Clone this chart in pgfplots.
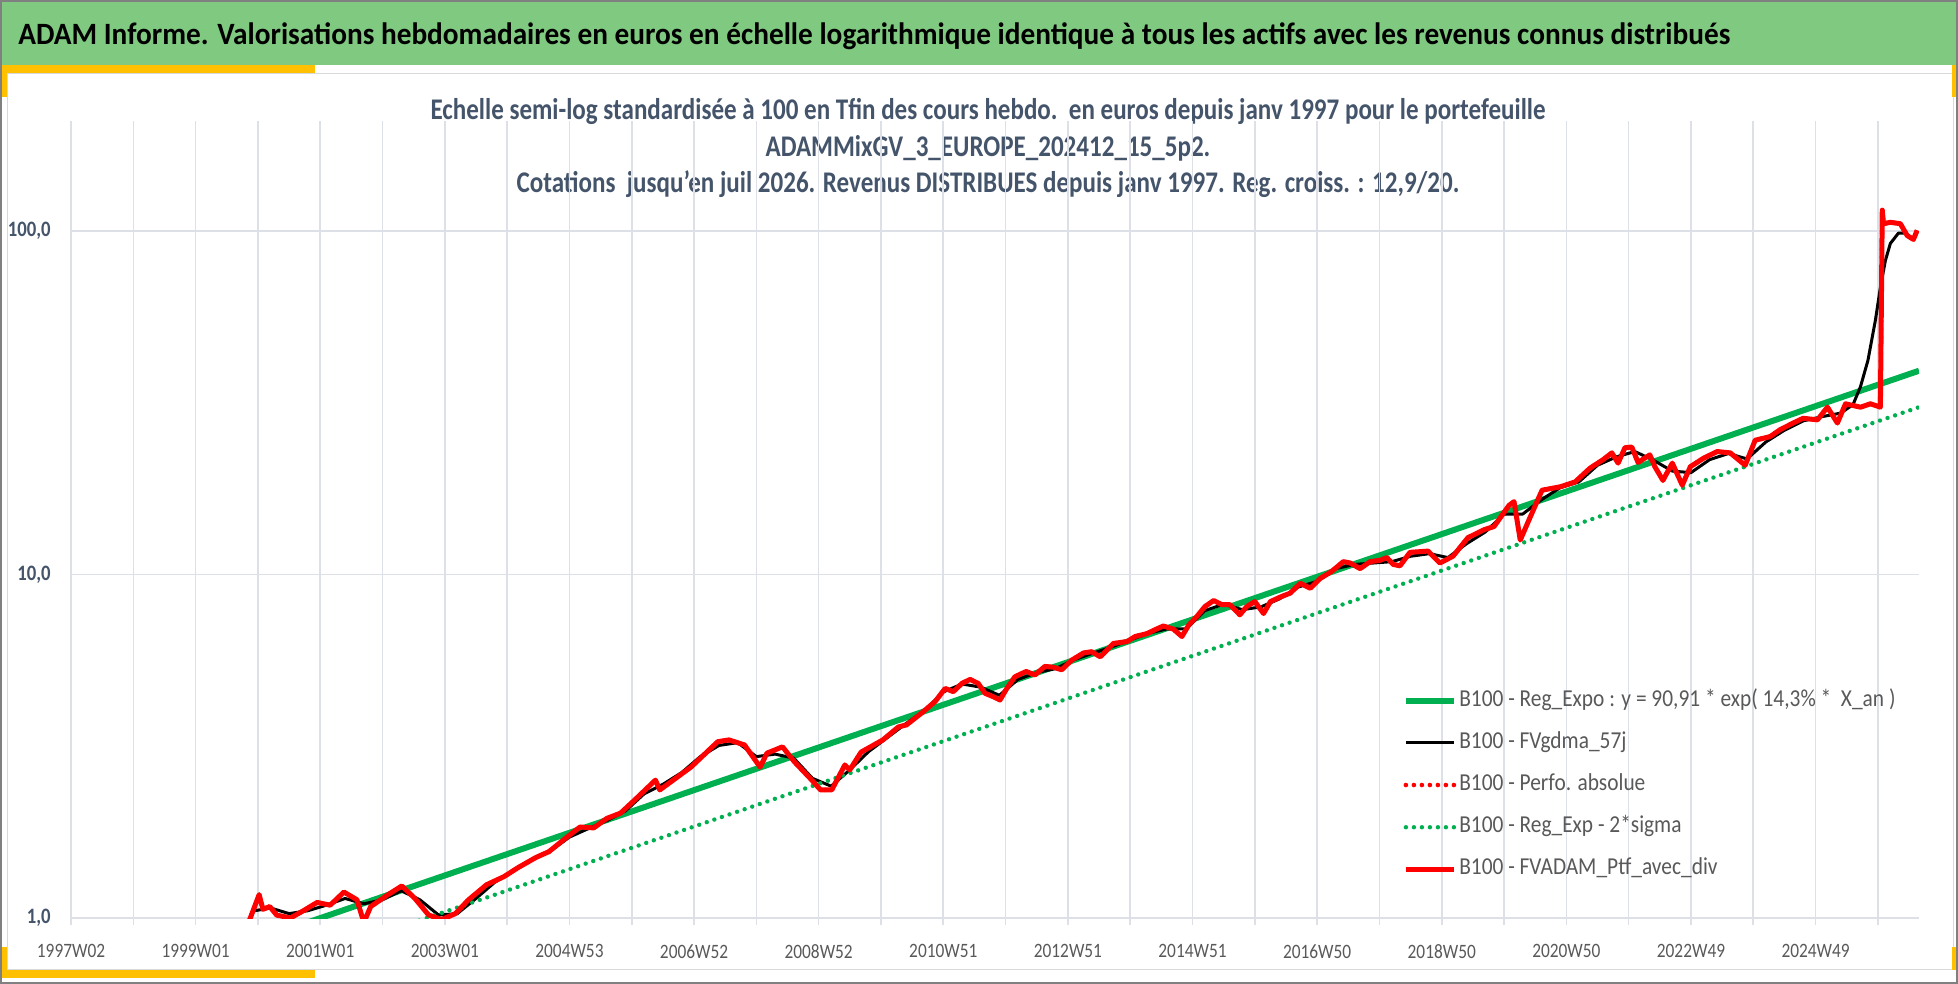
\documentclass[border=0pt]{standalone}
\usepackage{pgfplots}
\pgfplotsset{compat=1.18}
\usepackage{pgfplotstable}
\usepackage{graphicx}
\usepackage{fontspec}
\setmainfont{Carlito}
\definecolor{titlegreen}{RGB}{128,201,128}
\definecolor{accent}{RGB}{255,192,0}
\definecolor{slate}{RGB}{68,84,106}
\definecolor{txtgray}{RGB}{89,89,89}
\definecolor{gridc}{RGB}{222,224,232}
\definecolor{xlgreen}{RGB}{0,176,80}
\definecolor{framec}{RGB}{128,128,128}
\definecolor{innerframe}{RGB}{217,217,217}
\newcommand\sqx[1]{\scalebox{0.85}[1]{#1}}
\newcommand\sql[1]{\scalebox{0.88}[1]{#1}}

\pgfplotstableread{
t v
2.85 0.97
3.02 1.17
3.08 1.06
3.19 1.08
3.30 1.02
3.52 1.00
3.73 1.05
3.95 1.11
4.16 1.09
4.38 1.19
4.59 1.13
4.70 0.97
4.81 1.08
5.09 1.17
5.31 1.24
5.52 1.14
5.74 1.02
5.95 0.99
6.17 1.03
6.38 1.13
6.67 1.25
6.95 1.32
7.17 1.40
7.46 1.50
7.67 1.56
7.96 1.72
8.17 1.84
8.39 1.83
8.60 1.95
8.82 2.02
9.04 2.20
9.38 2.52
9.45 2.36
9.95 2.75
10.38 3.26
10.56 3.30
10.81 3.19
11.06 2.75
11.17 3.02
11.42 3.15
11.61 2.85
11.89 2.52
12.03 2.36
12.21 2.36
12.42 2.79
12.50 2.70
12.68 3.04
13.03 3.30
13.28 3.60
13.41 3.65
13.68 3.99
13.87 4.27
14.03 4.66
14.16 4.56
14.30 4.82
14.43 4.95
14.56 4.82
14.67 4.51
14.80 4.41
14.91 4.31
15.02 4.66
15.15 5.04
15.33 5.22
15.47 5.10
15.63 5.40
15.77 5.37
15.90 5.28
16.06 5.63
16.25 5.91
16.38 5.96
16.52 5.76
16.73 6.30
16.95 6.38
17.08 6.60
17.27 6.73
17.40 6.91
17.53 7.08
17.69 6.94
17.83 6.60
17.94 7.13
18.07 7.55
18.20 8.07
18.34 8.40
18.47 8.17
18.60 8.17
18.76 7.63
18.87 8.07
19.00 8.34
19.14 7.70
19.25 8.34
19.41 8.60
19.57 8.83
19.73 9.43
19.89 9.12
20.05 9.74
20.23 10.2
20.42 10.9
20.53 10.8
20.69 10.4
20.85 10.9
21.01 11.0
21.12 11.2
21.22 10.7
21.33 10.6
21.49 11.6
21.78 11.7
21.97 10.8
22.18 11.3
22.42 12.8
22.68 13.5
22.84 13.8
23.08 15.9
23.16 16.3
23.26 12.6
23.42 14.7
23.61 17.6
23.90 18.0
24.14 18.6
24.38 20.4
24.59 21.6
24.73 22.6
24.83 21.1
24.94 23.4
25.05 23.5
25.15 21.2
25.34 22.3
25.42 20.6
25.55 18.8
25.70 21.1
25.86 18.2
25.99 20.6
26.20 21.8
26.42 22.8
26.63 22.6
26.87 20.8
27.03 24.6
27.27 25.2
27.43 26.4
27.64 27.6
27.80 28.5
28.03 28.2
28.19 30.7
28.35 27.6
28.48 31.4
28.72 30.7
28.88 31.4
29.04 30.7
29.07 115
29.09 105
29.20 106
29.36 105
29.47 97
29.57 94.5
29.63 100.5
}\redtab

\pgfplotstableread{
t v
2.95 1.05
3.2 1.07
3.5 1.03
3.8 1.05
4.1 1.09
4.4 1.14
4.7 1.10
5.0 1.13
5.3 1.20
5.6 1.13
5.9 1.02
6.2 1.03
6.5 1.14
6.8 1.27
7.1 1.37
7.4 1.48
7.7 1.57
8.0 1.72
8.3 1.82
8.6 1.92
8.9 2.05
9.2 2.30
9.5 2.45
9.8 2.65
10.1 2.95
10.4 3.18
10.7 3.24
11.0 2.95
11.3 3.00
11.6 2.92
11.9 2.55
12.2 2.42
12.5 2.70
12.8 3.05
13.1 3.35
13.4 3.68
13.7 4.02
14.0 4.55
14.3 4.80
14.6 4.70
14.9 4.45
15.2 4.95
15.5 5.18
15.8 5.32
16.1 5.65
16.4 5.90
16.7 6.15
17.0 6.45
17.3 6.75
17.6 6.95
17.9 6.95
18.2 7.85
18.5 8.20
18.8 7.90
19.1 8.05
19.4 8.50
19.7 9.20
20.0 9.55
20.3 10.4
20.6 10.7
20.9 10.8
21.2 10.9
21.5 11.3
21.8 11.5
22.1 11.2
22.4 12.3
22.7 13.3
23.0 15.0
23.3 15.0
23.6 16.5
23.9 17.9
24.2 18.6
24.5 20.8
24.8 22.0
25.1 22.8
25.4 21.5
25.7 20.0
26.0 19.8
26.3 21.6
26.6 22.5
26.9 21.7
27.2 24.3
27.5 26.3
27.8 28.0
28.1 28.8
28.4 29.5
28.6 31.2
28.72 35.2
28.84 42
28.96 55
29.04 68.5
29.12 82
29.20 92
29.33 98.6
29.44 98.6
29.55 94.5
29.63 99
}\blacktab

\begin{document}
\begin{tikzpicture}[x=0.5pt,y=-0.5pt]
\useasboundingbox (0,0) rectangle (1958,984);
\fill[white] (0,0) rectangle (1958,984);
\fill[titlegreen] (0,0) rectangle (1958,65);
\draw[innerframe, line width=0.5pt] (7,74) rectangle (1953,969);
\fill[accent] (0,65) rectangle (315,73);
\fill[accent] (0,65) rectangle (7,97);
\fill[accent] (1952,65) rectangle (1958,97);
\fill[accent] (0,970) rectangle (315,978);
\fill[accent] (0,947) rectangle (7,978);
\fill[accent] (1952,947) rectangle (1958,970);
\draw[framec, line width=1pt] (1,1) rectangle (1957,983);
\node[anchor=base west, inner sep=0, font=\fontsize{15.5}{18}\selectfont\bfseries] at (18,45) {\scalebox{0.945}[1]{ADAM Informe. Valorisations hebdomadaires en euros en échelle logarithmique identique à tous les actifs avec les revenus connus distribués}};
\node[anchor=base, inner sep=0, text=slate, font=\fontsize{15}{18}\selectfont\bfseries] at (988,120) {\scalebox{0.835}[1]{Echelle semi-log standardisée à 100 en Tfin des cours hebdo.\ \ en euros depuis janv 1997 pour le portefeuille}};
\node[anchor=base, inner sep=0, text=slate, font=\fontsize{15}{18}\selectfont\bfseries] at (988,157) {\scalebox{0.835}[1]{ADAMMixGV\_3\_EUROPE\_202412\_15\_5p2.}};
\node[anchor=base, inner sep=0, text=slate, font=\fontsize{15}{18}\selectfont\bfseries] at (988,193) {\scalebox{0.835}[1]{Cotations\ \ jusqu'en juil 2026. Revenus DISTRIBUES depuis janv 1997. Reg. croiss. : 12,9/20.}};
\coordinate (plotsw) at (71,918);
\begin{axis}[
  at={(plotsw)}, anchor=south west,
  scale only axis, width=924pt, height=395pt,
  xmin=0, xmax=29.66,
  ymode=log, ymin=1, ymax=199.5,
  axis line style={draw=none},
  xtick={0,2,...,28},
  minor xtick={1,3,...,29},
  xticklabels={\sqx{1997W02},\sqx{1999W01},\sqx{2001W01},\sqx{2003W01},\sqx{2004W53},\sqx{2006W52},\sqx{2008W52},\sqx{2010W51},\sqx{2012W51},\sqx{2014W51},\sqx{2016W50},\sqx{2018W50},\sqx{2020W50},\sqx{2022W49},\sqx{2024W49}},
  ytick={1,10,100},
  yticklabels={{\sqx{1,0}},{\sqx{10,0}},{\sqx{100,0}}},
  yminorticks=false,
  xmajorgrids, xminorgrids, ymajorgrids,
  grid style={gridc, line width=0.8pt},
  minor grid style={gridc, line width=0.8pt},
  tick align=outside,
  major tick length=3.5pt, minor tick length=3.5pt,
  tick style={gridc, line width=0.8pt},
  ytick style={draw=none},
  xticklabel style={font=\fontsize{10.2}{12}\selectfont, text=txtgray, inner sep=0pt, anchor=north, yshift=-9.5pt},
  yticklabel style={font=\fontsize{11}{13}\selectfont\bfseries, text=slate, inner sep=0pt, anchor=east, xshift=-6.5pt},
  /pgf/number format/assume math mode=true,
  legend cell align=left,
  legend style={at={(0.7205,0.292)}, anchor=north west, draw=none, fill=none,
    font=\fontsize{12.15}{14}\selectfont, text=txtgray,
    row sep=8.2pt, inner sep=0pt,
    nodes={inner sep=1.2pt, text depth=2.5pt, text height=8pt}},
  legend image code/.code={\draw[#1] (0pt,0pt) -- (24pt,0pt);},
]
\addplot[xlgreen, line width=3pt] coordinates {(0,0.564) (29.66,39.2)};
\addlegendentry{\sql{B100 - Reg\_Expo : y = 90,91 * exp( 14,3\% *\ \ X\_an )}}
\addplot[black, line width=1.5pt, line join=round] table[x=t,y=v] {\blacktab};
\addlegendentry{\sql{B100 - FVgdma\_57j}}
\addplot[red, line width=2.3pt, line cap=round, dash pattern=on 0pt off 4pt] table[x=t,y=v] {\redtab};
\addlegendentry{\sql{B100 - Perfo. absolue}}
\addplot[xlgreen, line width=2.2pt, line cap=round, dash pattern=on 0pt off 4pt] coordinates {(0,0.442) (29.66,30.7)};
\addlegendentry{\sql{B100 - Reg\_Exp - 2*sigma}}
\addplot[red, line width=2.5pt, line join=round] table[x=t,y=v] {\redtab};
\addlegendentry{\sql{B100 - FVADAM\_Ptf\_avec\_div}}
\end{axis}
\end{tikzpicture}
\end{document}
